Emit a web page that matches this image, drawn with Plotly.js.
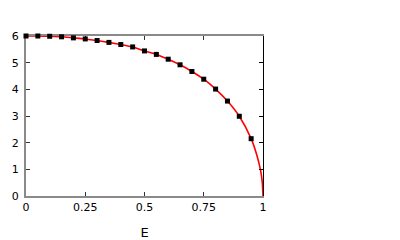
<!DOCTYPE html>
<html><head><meta charset="utf-8">
<script src="https://cdn.plot.ly/plotly-3.0.1.min.js"></script>
<style>html,body{margin:0;padding:0;background:#fff}#c{width:400px;height:240px}</style>
</head><body><div id="c"></div>
<script>
// marker points
const markerE = [0,0.05,0.1,0.15,0.2,0.25,0.3,0.35,0.4,0.45,0.5,0.55,0.6,0.65,0.7,0.75,0.8,0.85,0.9,0.95];
const markerY = [6.0,6.0,5.99,5.97,5.93,5.89,5.83,5.76,5.68,5.59,5.44,5.31,5.13,4.92,4.67,4.38,4.01,3.56,2.99,2.15];
// curve points (including the steep end)
const curveE = markerE.concat([0.975,0.99,0.997,1]);
const curveY = markerY.concat([1.5,0.95,0.5,0]);
const xTicks = [0,0.25,0.5,0.75,1];
const xTickText = ['0','0.25','0.5','0.75','1'];
const yTicks = [0,1,2,3,4,5,6];

const traces = [
  {x: curveE, y: curveY, type:'scatter', mode:'lines',
   line:{color:'#ff0000', width:1.6, shape:'spline', smoothing:0.6}, cliponaxis:false, hoverinfo:'skip'},
  {x: markerE, y: markerY, type:'scatter', mode:'markers',
   marker:{symbol:'square', size:5, color:'#000'}, cliponaxis:false},
  {x:[0], y:[0], yaxis:'y2', type:'scatter', mode:'markers', marker:{opacity:0}, hoverinfo:'skip'}
];
const layout = {
  width:400, height:240, showlegend:false,
  paper_bgcolor:'#fff', plot_bgcolor:'#fff',
  margin:{l:26, r:137, t:36, b:44},
  font:{family:'DejaVu Sans', size:11, color:'#000'},
  xaxis:{range:[0,1], tickvals:xTicks, ticktext:xTickText, ticks:'inside', ticklen:4,
    tickcolor:'#333', showline:true, linecolor:'#8a8a8a', linewidth:2, mirror:'ticks',
    showgrid:false, zeroline:false, layer:'below traces', title:{text:'E', standoff:18}},
  yaxis:{range:[0,6], tickvals:yTicks, ticks:'inside', ticklen:4, ticklabelstandoff:3,
    tickcolor:'#333', showline:true, linecolor:'#8a8a8a', linewidth:2, mirror:false,
    showgrid:false, zeroline:false, layer:'below traces'},
  yaxis2:{range:[0,6], overlaying:'y', side:'right', tickvals:yTicks, ticks:'inside', ticklen:4,
    tickcolor:'#000', showline:true, linecolor:'#000', linewidth:1, showticklabels:false,
    showgrid:false, zeroline:false}
};
Plotly.newPlot('c', traces, layout, {staticPlot:true});
</script></body></html>
